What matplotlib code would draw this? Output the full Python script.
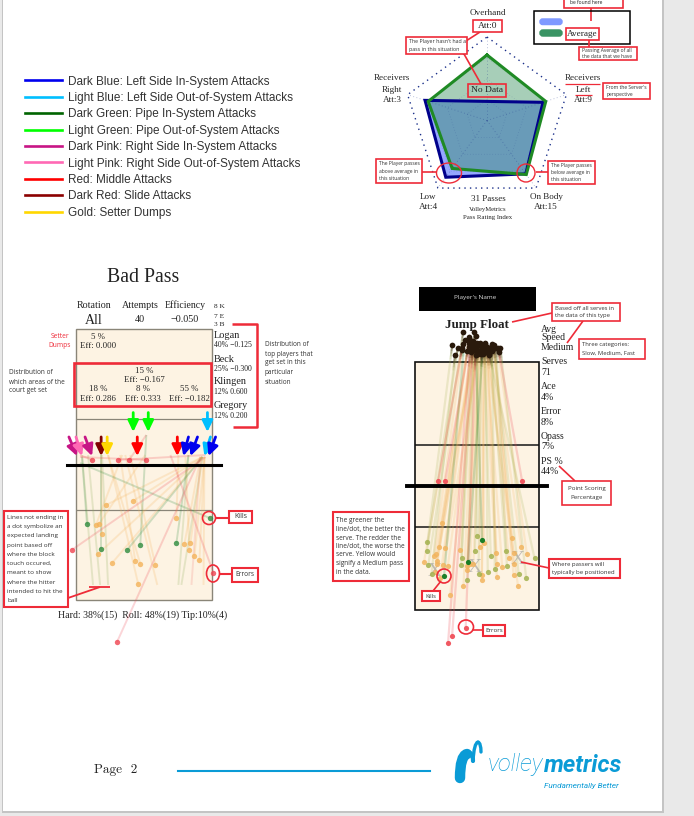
import numpy as np
import matplotlib
matplotlib.use('Agg')
import matplotlib.pyplot as plt
from matplotlib.patches import Rectangle, Ellipse, FancyBboxPatch, PathPatch
from matplotlib.path import Path
from matplotlib.lines import Line2D
from matplotlib.collections import LineCollection

W, H = 694, 816
SERIF = 'Liberation Serif'
SANS = 'Open Sans'
RED = '#ee2b38'
BLUE = '#0a9bd6'

# attack legend
legend_labels = ['Dark Blue: Left Side In-System Attacks', 'Light Blue: Left Side Out-of-System Attacks',
                 'Dark Green: Pipe In-System Attacks', 'Light Green: Pipe Out-of-System Attacks',
                 'Dark Pink: Right Side In-System Attacks', 'Light Pink: Right Side Out-of-System Attacks',
                 'Red: Middle Attacks', 'Dark Red: Slide Attacks', 'Gold: Setter Dumps']
legend_colors = ['#0000ee', '#00bfff', '#006400', '#00ff00', '#c71585', '#ff69b4', '#ff0000', '#8b0000', '#ffd700']

# passing radar, fractions of the outer ring
radar_angles = [0, 72, 144, 216, 288]
player_pass = [np.nan, 0.705, 0.79, 0.84, 0.78]
average_pass = [0.785, 0.74, 0.80, 0.71, 0.74]

# bad pass attacks, metres on the court, top baseline = 0
arrow_color = ['#c71585', '#ff69b4', '#c71585', '#800000', '#ffd700', '#ff0000', '#ff0000',
               '#0000ee', '#0000ee', '#00bfff', '#0000ee', '#00ff00', '#00ff00', '#00bfff']
arrow_x0 = [-0.47, 0.0, 0.6, 1.67, 2.07, 4.07, 6.73, 7.47, 8.07, 8.93, 9.27, 3.8, 4.8, 8.73]
arrow_y0 = [7.17, 7.17, 7.17, 7.17, 7.17, 7.17, 7.17, 7.17, 7.17, 7.17, 7.17, 5.55, 5.55, 5.55]
arrow_x1 = [0.07, 0.4, 1.07, 1.67, 2.07, 4.07, 6.73, 7.13, 7.6, 8.53, 8.8, 3.8, 4.8, 8.73]
arrow_y1 = [8.44, 8.44, 8.44, 8.44, 8.44, 8.44, 8.44, 8.44, 8.44, 8.44, 8.44, 6.84, 6.84, 6.84]

kill_x0 = [0.27, 0.4, 1.67, 8.4, 4.67, 7.47]
kill_y0 = [8.9, 8.5, 8.17, 8.5, 7.04, 8.37]
kill_x1 = [8.87, 0.73, 1.67, 3.4, 4.27, 6.67]
kill_y1 = [12.55, 12.95, 14.61, 14.67, 14.34, 14.21]

mid_x0 = [8.4, 8.4, 3.07, 4.6, 1.67, 8.4, 8.4, 2.93, 2.13, 3.6, 2.13, 6.8, 8.27, 8.4, 7.27, 8.53, 8.53]
mid_y0 = [8.5, 8.5, 8.37, 8.37, 8.37, 8.5, 8.5, 8.37, 8.37, 8.37, 8.37, 8.37, 8.5, 8.5, 8.5, 8.5, 8.5]
mid_x1 = [2.0, 3.8, 1.33, 1.53, 1.73, 1.47, 2.4, 3.93, 4.27, 5.27, 4.13, 6.67, 7.2, 7.6, 7.53, 7.87, 8.2]
mid_y1 = [11.69, 11.42, 13.01, 12.95, 13.61, 14.94, 15.54, 15.4, 15.6, 15.67, 16.93, 12.55, 14.28, 14.21, 14.67, 15.07, 15.34]

err_x0 = [0.27, 8.6, 4.67, 0.27, 8.6, 8.27, 6.27]
err_y0 = [8.37, 8.37, 7.04, 8.5, 8.5, 8.5, 8.37]
err_x1 = [1.07, 2.8, 3.53, 4.67, -0.27, 2.73, 9.13]
err_y1 = [8.7, 8.7, 8.7, 8.7, 14.67, 20.78, 16.2]

block_x0 = [0.4, 0.8, 1.73, 3.27, 7.47, 8.4, 8.27, 8.53]
block_y0 = [8.37, 8.37, 8.37, 8.37, 8.37, 8.5, 8.5, 8.5]
block_x1 = [1.13, 1.6, 2.13, 5.4, 6.8, 7.0, 7.67, 8.47]
block_y1 = [17, 17, 17, 17, 17, 17, 17, 17]
block_color = ['#8fae5a', '#8fae5a', '#8fae5a', '#f4b35a', '#8fae5a', '#8fae5a', '#f2807a', '#f4b35a']

# jump float serves, metres on the court
ace_x0 = [4.4, 3.6, 4.9]
ace_y0 = [-1.0, -1.6, -0.7]
ace_x1 = [4.87, 2.11, 3.85]
ace_y1 = [12.90, 15.55, 14.50]

good_x0 = [2.7, 3.1, 4.2, 4.0, 4.6, 5.5, 5.9, 5.6, 5.1, 4.8, 5.7, 6.2, 5.4, 4.3, 3.5, 4.5, 5.0, 2.9]
good_y0 = [-1.2, -1.0, -0.9, -1.6, -1.2, -1.1, -1.0, -0.8, -1.3, -0.6, -1.2, -1.0, -0.5, -2.2, -2.2, -1.4, -1.0, -0.5]
good_x1 = [0.90, 0.87, 3.39, 3.35, 4.36, 6.57, 6.67, 5.79, 5.28, 4.61, 7.52, 8.07, 8.68, 3.81, 0.97, 4.5, 5.5, 1.2]
good_y1 = [13.10, 13.70, 14.19, 14.72, 13.70, 13.73, 14.80, 15.06, 15.23, 15.40, 15.36, 15.67, 14.26, 15.82, 14.70, 12.6, 14.1, 15.4]

med_x0 = [4.4, 4.2, 3.9, 3.8, 3.5, 3.4, 4.1, 4.3, 4.6, 4.5, 4.2, 3.9, 4.4, 4.3, 4.7, 4.5, 4.4, 4.8, 4.9, 5.0, 5.1,
          4.7, 4.8, 5.2, 5.3, 5.0, 5.5, 5.6, 5.4, 5.7, 5.3, 5.1, 5.8, 5.2, 6.0]
med_y0 = [-1.1, -0.9, -1.4, -0.8, -1.3, -1.0, -0.7, -1.2, -0.6, -0.9, -1.5, -1.8, -0.5, -1.0, -1.2, -0.8, -1.9, -1.3,
          -0.6, -1.0, -0.7, -1.4, -0.9, -1.1, -0.8, -1.2, -1.0, -1.3, -0.6, -1.1, -0.9, -1.4, -1.0, -0.7, -1.0]
med_x1 = [1.94, 2.18, 1.77, 1.53, 1.38, 0.65, 1.62, 1.58, 2.06, 2.38, 1.82, 1.45, 2.55, 3.27, 3.76, 3.78, 3.52, 4.70,
          5.02, 4.85, 4.85, 4.0, 4.24, 5.89, 5.94, 5.94, 7.03, 7.71, 6.81, 7.15, 7.15, 6.33, 7.15, 7.47, 8.12]
med_y1 = [11.69, 13.53, 13.46, 13.95, 14.09, 14.53, 14.43, 14.67, 14.75, 14.84, 15.65, 15.21, 16.93, 13.68, 14.80,
          15.11, 16.23, 13.46, 13.14, 15.82, 15.45, 14.67, 14.67, 13.85, 14.67, 15.57, 12.78, 13.46, 14.24, 13.83,
          14.67, 14.87, 15.45, 16.23, 13.95]

miss_x0 = [3.4, 3.9, 6.1, 4.4, 4.2, 4.0]
miss_y0 = [-0.9, -1.1, -0.7, -0.8, -1.0, -1.2]
miss_x1 = [1.67, 2.18, 7.78, 3.68, 2.69, 2.40]
miss_y1 = [8.67, 8.67, 8.67, 19.29, 19.90, 20.41]

passer_x = [1.45, 4.3, 7.45]
passer_y = [15.2, 14.9, 14.3]

# text tables
player_names = ['Logan', 'Beck', 'Klingen', 'Gregory']
player_stats = ['40% \u22120.125', '25% \u22120.300', '12% 0.600', '12% 0.200']
player_name_y = [335, 359, 382, 406]
zone_labels = ['18 %', '8 %', '55 %']
zone_effs = ['Eff: 0.286', 'Eff: 0.333', 'Eff: \u22120.182']
serve_stat_labels = ['Serves', 'Ace', 'Error', 'Opass', 'PS %']
serve_stat_values = ['71', '4%', '8%', '7%', '44%']


def label(ax, x, y, s, size=7, ha='center', family=SERIF, color='#222222', **kw):
    ax.text(x, y, s, fontsize=size, ha=ha, va='center', family=family, color=color, **kw)


def box(ax, x0, y0, x1, y1, lw=1.2, zorder=6, face='white', edge=RED):
    ax.add_patch(Rectangle((x0, y0), x1 - x0, y1 - y0, fc=face, ec=edge, lw=lw, zorder=zorder))


def note(ax, x0, y0, x1, y1, lines, size=4.4, step=8.5, ha='left', family=SANS, lw=1.2):
    box(ax, x0, y0, x1, y1, lw=lw)
    top_y = (y0 + y1) / 2 - step * (len(lines) - 1) / 2
    tx = x0 + 3.5 if ha == 'left' else (x0 + x1) / 2
    for i, line in enumerate(lines):
        ax.text(tx, top_y + i * step, line, fontsize=size, ha=ha, va='center', family=family,
                color='#333333', zorder=7)


def link(ax, xs, ys, lw=1.2, zorder=5):
    ax.plot(xs, ys, color=RED, lw=lw, zorder=zorder, solid_capstyle='butt')


def ring(ax, x, y, w, h, lw=1.0):
    ax.add_patch(Ellipse((x, y), w, h, fc='none', ec=RED, lw=lw, zorder=6))


def court_axes(fig, x0, y0, width, zorder=2):
    # 9 x 18 m court placed in page pixels
    height = width * 2
    ax = fig.add_axes([x0 / W, 1 - (y0 + height) / H, width / W, height / H], zorder=zorder)
    ax.set_xlim(0, 9)
    ax.set_ylim(18, 0)
    ax.axis('off')
    return ax


def draw_court(ax, edge, lw):
    ax.add_patch(Rectangle((0, 0), 9, 18, fc='#fdf3e3', ec=edge, lw=lw, clip_on=False, zorder=0))
    ax.plot([0, 9], [6, 6], color=edge, lw=lw * 0.9, zorder=1)
    ax.plot([0, 9], [12, 12], color=edge, lw=lw * 0.9, zorder=1)


def shots(ax, x0, y0, x1, y1, color, alpha=0.22, lw=1.4, dots=True, size=15, dot_alpha=0.8):
    segs = [[(a, b), (c, d)] for a, b, c, d in zip(x0, y0, x1, y1)]
    ax.add_collection(LineCollection(segs, colors=color, alpha=alpha, linewidths=lw, zorder=2, clip_on=False))
    if dots:
        ax.scatter(x1, y1, s=size, color=color, alpha=dot_alpha, lw=0, zorder=4, clip_on=False)


def serve_fade(ax, x0, y0, x1, y1, color):
    # serves start out dark brown at the server and fade into the result colour
    dark = np.array([0.17, 0.09, 0.03])
    base = np.array(matplotlib.colors.to_rgb(color))
    for a, b, c, d in zip(x0, y0, x1, y1):
        ts = np.linspace(0, 0.07, 6)
        xs = a + (c - a) * ts
        ys = b + (d - b) * ts
        for i in range(len(ts) - 1):
            mix = i / (len(ts) - 1)
            ax.plot(xs[i:i + 2], ys[i:i + 2], color=dark * (1 - mix) + base * mix, lw=1.4,
                    alpha=0.55 * (1 - mix) + 0.05, zorder=3, clip_on=False, solid_capstyle='butt')
    ax.scatter(x0, y0, s=17, color='#2a1a0c', lw=0, zorder=5, clip_on=False)


fig = plt.figure(figsize=(W / 100, H / 100), dpi=100, facecolor='#e9e9e9')

page = fig.add_axes([0, 0, 1, 1], zorder=1)
page.set_xlim(0, W)
page.set_ylim(H, 0)
page.axis('off')
page.add_patch(Rectangle((2, -2), 662, 815, fc='#c4c4c4', ec='none'))
page.add_patch(Rectangle((3.5, -2), 659, 813, fc='white', ec='none'))

# legend
handles = [Line2D([], [], color=c, lw=1.9) for c in legend_colors]
leg = page.legend(handles, legend_labels, loc='upper left', bbox_to_anchor=(25 / W, 1 - 75.5 / H),
                  bbox_transform=fig.transFigure, frameon=False, handlelength=3.14,
                  handletextpad=0.51, labelspacing=0.375, borderpad=0, borderaxespad=0,
                  prop={'family': 'Liberation Sans', 'size': 8.47})
for t in leg.get_texts():
    t.set_color('#333333')

# radar
radar = fig.add_axes([403.5 / W, 1 - 204 / H, 167 / W, 167 / H], projection='polar', zorder=2)
radar.set_theta_zero_location('N')
radar.set_theta_direction(-1)
radar.set_ylim(0, 1)
radar.axis('off')
theta = np.deg2rad(radar_angles)
theta_closed = np.append(theta, theta[0])
for r in [1.0, 0.75, 0.5, 0.25]:
    radar.plot(theta_closed, [r] * 6, ls=(0, (1, 3)), lw=1.0 if r == 1 else 0.5, color='#1a2f8a',
               alpha=1 if r == 1 else 0.25, clip_on=False)
for a in theta:
    radar.plot([a, a], [0, 1], ls=(0, (1, 3)), lw=0.6, color='#1a2f8a', alpha=0.4, clip_on=False)
known = np.isfinite(player_pass)
player_t = np.append(theta[known], theta[known][0])
player_r = np.append(np.array(player_pass)[known], np.array(player_pass)[known][0])
radar.fill(player_t, player_r, color='#4f6dff', alpha=0.6, lw=0, clip_on=False)
radar.plot(player_t, player_r, color='#00008b', lw=2.2, clip_on=False, solid_joinstyle='miter')
avg_r = average_pass + average_pass[:1]
radar.fill(theta_closed, avg_r, color='#2e8b57', alpha=0.42, lw=0, clip_on=False)
radar.plot(theta_closed, avg_r, color='#1f8a24', lw=2.2, clip_on=False, solid_joinstyle='miter')

# radar labels, the notes sit over it so they go on a top layer
top = fig.add_axes([0, 0, 1, 1], zorder=5)
top.set_xlim(0, W)
top.set_ylim(H, 0)
top.axis('off')
top.patch.set_alpha(0)

label(top, 487.5, 13, 'Overhand', 6.6)
label(top, 392, 78.5, 'Receivers', 6.6)
label(top, 392, 89.5, 'Right', 6.6)
label(top, 392, 100.5, 'Att:3', 6.6)
label(top, 583, 78.5, 'Receivers', 6.6)
label(top, 583, 89.5, 'Left', 6.6)
label(top, 583, 100.5, 'Att:9', 6.6)
label(top, 428, 197, 'Low', 6.5)
label(top, 428, 207, 'Att:4', 6.7)
label(top, 546, 197, 'On Body', 6.5)
label(top, 546, 207, 'Att:15', 6.7)
label(top, 488, 199, '31 Passes', 6.5)
label(top, 488, 210, 'VolleyMetrics', 4.8)
label(top, 488, 217, 'Pass Rating Index', 4.9)
link(top, [565, 600], [84, 84], lw=0.9)
link(top, [575, 592], [94.5, 94.5], lw=0.9)

box(top, 473, 19.5, 502.5, 32)
label(top, 487.5, 25.5, 'Att:0', 6.8, zorder=7)
link(top, [480, 466], [32, 41])
note(top, 406, 37, 467, 54, ["The Player hasn't had a", 'pass in this situation'], size=3.8, step=7)
link(top, [464, 481], [54, 84])
box(top, 468.5, 84, 506, 97, face='none')
label(top, 487, 90.5, 'No Data', 6.8, zorder=7)
note(top, 603, 83, 650, 99, ["From the Server's", 'perspective'], size=3.6, step=7)
note(top, 376, 159, 422, 183, ['The Player passes', 'above average in', 'this situation'], size=3.6, step=7)
link(top, [422, 437], [172, 172])
ring(top, 449, 173, 25, 20)
note(top, 548, 161, 595, 184, ['The Player passes', 'below average in', 'this situation'], size=3.6, step=7)
link(top, [536, 548], [172, 172])
ring(top, 526, 173, 18, 18)

# radar key
box(top, 564, -2, 623, 8)
label(top, 570, 3, 'be found here', 3.6, ha='left', family=SANS, zorder=7)
link(top, [591, 591], [8, 21])
top.add_patch(Rectangle((534.5, 11), 96, 33, fc='none', ec='black', lw=1.1, zorder=5))
top.add_patch(FancyBboxPatch((541, 20), 20, 3.5, boxstyle='round,pad=0,rounding_size=1.7', fc='#7f99ff',
                             ec='#7f99ff', lw=2.5, zorder=5))
top.add_patch(FancyBboxPatch((541, 31), 20, 4, boxstyle='round,pad=0,rounding_size=2', fc='#3a9464',
                             ec='#3a9464', lw=2.5, zorder=5))
box(top, 566, 28, 599, 40)
label(top, 582, 34, 'Average', 6.6, zorder=7)
link(top, [589, 589], [40, 47])
note(top, 579, 47, 637, 60, ['Passing Average of all', 'the data that we have'], size=3.6, step=6.5)

# bad pass section
label(page, 143.5, 278, 'Bad Pass', 14.2)
label(page, 94, 305, 'Rotation', 7.2)
label(page, 140, 305, 'Attempts', 7.2)
label(page, 185, 305, 'Efficiency', 7)
label(page, 94, 320, 'All', 10)
label(page, 140, 320, '40', 7.3)
label(page, 185, 320, '\u22120.050', 7.3)
label(page, 214, 306, '8 K', 5.3, ha='left')
label(page, 214, 316, '7 E', 5.3, ha='left')
label(page, 214, 325, '3 B', 5.3, ha='left')
for name, stat, yy in zip(player_names, player_stats, player_name_y):
    label(page, 214, yy, name, 7.4, ha='left')
    label(page, 214, yy + 10, stat, 5.6, ha='left')
label(page, 143, 615, 'Hard: 38%(15)  Roll: 48%(19) Tip:10%(4)', 7.1)

bad = court_axes(fig, 76, 329, 135.5)
draw_court(bad, '#8a8578', 1.0)
shots(bad, block_x0, block_y0, block_x1, block_y1, block_color, dots=False)
shots(bad, mid_x0, mid_y0, mid_x1, mid_y1, '#f4b35a')
shots(bad, kill_x0, kill_y0, kill_x1, kill_y1, '#2e8b3e')
shots(bad, err_x0, err_y0, err_x1, err_y1, '#ef4350')
bad.plot([-0.6, 9.6], [9, 9], color='black', lw=2.2, zorder=5, clip_on=False)
for c, a, b, d, e in zip(arrow_color, arrow_x0, arrow_y0, arrow_x1, arrow_y1):
    bad.annotate('', xy=(d, e), xytext=(a, b), annotation_clip=False, zorder=6,
                 arrowprops=dict(arrowstyle='-|>,head_length=0.48,head_width=0.23', color=c, lw=2,
                                 mutation_scale=14, shrinkA=0, shrinkB=0))

label(top, 98, 337, '5 %', 6.3)
label(top, 98, 346, 'Eff: 0.000', 6.3)
label(top, 144, 371, '15 %', 6.3)
label(top, 144, 380, 'Eff: \u22120.167', 6.3)
for zx, zl, ze in zip([98, 143, 189], zone_labels, zone_effs):
    label(top, zx, 389, zl, 6.3)
    label(top, zx, 399, ze, 6.3)
box(top, 74.5, 362.5, 211, 406, lw=1.9, face='none')
label(top, 60, 336, 'Setter', 4.8, family=SANS, color=RED)
label(top, 60, 345.5, 'Dumps', 4.8, family=SANS, color=RED)
for yy, s in zip([372, 382, 391], ['Distribution of', 'which areas of the', 'court get set']):
    label(top, 9, yy, s, 4.7, ha='left', family=SANS, color='#333333')
for yy, s in zip([344, 354, 363, 372, 382], ['Distribution of', 'top players that', 'get set in this', 'particular', 'situation']):
    label(top, 265, yy, s, 4.7, ha='left', family=SANS, color='#333333')
link(top, [232, 257, 257, 233], [324, 324, 427, 427], lw=1.8)

note(top, 229.5, 511, 252, 523, ['Kills'], size=5, ha='center', lw=1.5)
link(top, [215.5, 229.5], [518, 518], lw=1.5)
ring(top, 209, 518, 13, 13, lw=1.2)
note(top, 232, 568, 258, 582, ['Errors'], size=4.8, ha='center', lw=1.5)
link(top, [220, 232], [574, 574], lw=1.5)
ring(top, 213, 573.5, 13, 17, lw=1.2)
note(top, 4, 511, 68, 607,
     ['Lines not ending in', 'a dot symbolize an', 'expected landing', 'point based off', 'where the block',
      'touch occured,', 'meant to show', 'where the hitter', 'intended to hit the', 'ball'],
     size=4.6, step=9.25, lw=1.5)
link(top, [68, 100], [598, 587], lw=1.3)
link(top, [89, 110], [587, 587], lw=1.3)

# serve section
top.add_patch(Rectangle((419, 287), 117, 24, fc='black', ec='none', zorder=3))
label(top, 475, 298, "Player's Name", 4.6, family=SANS, color='#dddddd', zorder=4)
label(page, 477, 325, 'Jump Float', 9.4, fontweight='bold')
link(top, [512, 552], [322, 313])
note(top, 552, 303, 620, 321, ['Based off all serves in', 'the data of this type'], size=4.2, step=8)
link(top, [583, 567], [321, 343])
note(top, 579, 339, 645, 359, ['Three categories:', 'Slow, Medium, Fast'], size=4.2, step=8.5)
label(page, 541, 329, 'Avg', 7, ha='left')
label(page, 541, 337, 'Speed', 7, ha='left')
label(page, 541, 348, 'Medium', 7, ha='left')
for i, (n, v) in enumerate(zip(serve_stat_labels, serve_stat_values)):
    label(page, 541, 362 + i * 24.8, n, 7, ha='left')
    label(page, 541, 372.5 + i * 24.8, v, 7, ha='left')
link(top, [559, 575], [466, 481])
note(top, 562, 481, 611, 505, ['Point Scoring', 'Percentage'], size=4.4, ha='center', step=8.5)

serve = court_axes(fig, 415, 362, 124)
draw_court(serve, '#111111', 1.2)
shots(serve, med_x0, med_y0, med_x1, med_y1, '#f2b45e', alpha=0.2, lw=1.6, size=14, dot_alpha=0.85)
shots(serve, good_x0, good_y0, good_x1, good_y1, '#a3b14e', alpha=0.2, lw=1.6, size=14, dot_alpha=0.85)
shots(serve, ace_x0, ace_y0, ace_x1, ace_y1, '#0f7a1f', alpha=0.2, lw=1.6, size=14, dot_alpha=0.95)
shots(serve, miss_x0, miss_y0, miss_x1, miss_y1, '#f0505a', alpha=0.24, lw=1.6, size=14, dot_alpha=0.95)
serve_fade(serve, med_x0, med_y0, med_x1, med_y1, '#f2b45e')
serve_fade(serve, good_x0, good_y0, good_x1, good_y1, '#a3b14e')
serve_fade(serve, ace_x0, ace_y0, ace_x1, ace_y1, '#0f7a1f')
serve_fade(serve, miss_x0, miss_y0, miss_x1, miss_y1, '#f0505a')
serve.plot([-0.6, 9.6], [9, 9], color='black', lw=2.8, zorder=6, clip_on=False)
for px, py in zip(passer_x, passer_y):
    serve.text(px, py, 'X', fontsize=14, family=SERIF, color='#9a9a9a', alpha=0.6, ha='center', va='center', zorder=2)

note(top, 333, 512, 409, 581,
     ['The greener the', 'line/dot, the better the', 'serve. The redder the', 'line/dot, the worse the',
      'serve. Yellow would', 'signify a Medium pass', 'in the data.'],
     size=4.7, step=8.5, lw=1.5)
note(top, 549, 559, 620, 578, ['Where passers will', 'typically be positioned'], size=4.3, step=8.5, lw=1.5)
link(top, [521, 549], [562, 568])
note(top, 422, 591, 440, 601, ['Kills'], size=4.2, ha='center', step=8, lw=1.5)
link(top, [433, 441], [591, 581])
ring(top, 444, 576, 14, 14, lw=1.2)
ring(top, 466, 627, 15, 14, lw=1.2)
link(top, [473, 483], [630, 630])
note(top, 483, 625, 505, 636, ['Errors'], size=4.5, ha='center', lw=1.5)

# footer
page.text(94, 770, 'Page  2', fontsize=9.5, family='cmr10', ha='left', va='center', color='#222222')
page.plot([178, 430], [771, 771], color=BLUE, lw=1.5)
logo_main = Path([(460, 778), (460, 756), (467, 754)], [Path.MOVETO, Path.CURVE3, Path.CURVE3])
logo_join = Path([(467, 752), (473, 752), (473, 761)], [Path.MOVETO, Path.CURVE3, Path.CURVE3])
logo_hook = Path([(473, 761), (474, 743), (478, 742), (481, 743), (481, 752)],
                 [Path.MOVETO, Path.CURVE3, Path.CURVE3, Path.CURVE3, Path.CURVE3])
for stroke, width in zip([logo_main, logo_join, logo_hook], [7.5, 3, 2.4]):
    page.add_patch(PathPatch(stroke, fc='none', ec=BLUE, lw=width, capstyle='round'))
page.text(543, 765, 'volley', fontsize=17, family='Roboto', style='italic', fontweight='light', color=BLUE,
          ha='right', va='center')
page.text(544, 765, 'metrics', fontsize=17, family='Roboto', style='italic', fontweight='bold', color=BLUE,
          ha='left', va='center')
page.text(619, 786, 'Fundamentally Better', fontsize=5.9, family='Roboto', style='italic', color=BLUE,
          ha='right', va='center')

fig.savefig('out.png', dpi=100, facecolor=fig.get_facecolor())
